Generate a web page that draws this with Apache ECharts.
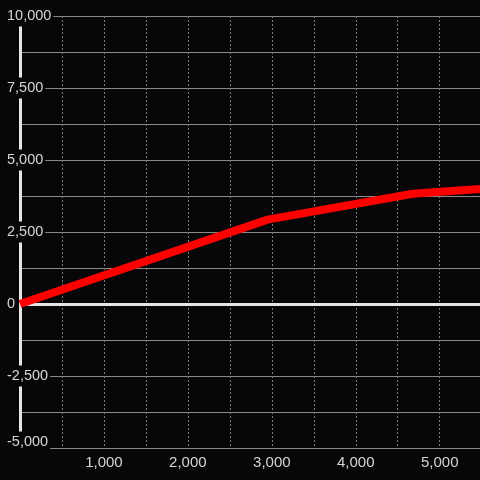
<!DOCTYPE html>
<html>
<head>
<meta charset="utf-8">
<script src="https://cdn.jsdelivr.net/npm/echarts@6/dist/echarts.min.js"></script>
<style>
  html, body { margin: 0; padding: 0; background: #070709; }
  #chart { width: 480px; height: 480px; }
</style>
</head>
<body>
<div id="chart"></div>
<script>
// data
const xValues = [0, 2950, 4680, 5500];
const yValues = [0, 2930, 3830, 4000];
const xRange = [0, 5480];
const yRange = [-5000, 10000];

const bg = '#070709';
const labelColor = '#d6d6d6';
const fmt = v => v.toLocaleString('en-US');

const chart = echarts.init(document.getElementById('chart'));

const option = {
  backgroundColor: bg,
  animation: false,
  grid: { left: 20, right: 0, top: 16, bottom: 32, outerBoundsMode: 'none' },
  xAxis: {
    type: 'value',
    min: xRange[0],
    max: xRange[1],
    interval: 500,
    axisLine: { show: false },
    axisTick: { show: false },
    axisLabel: {
      color: labelColor,
      fontSize: 15,
      fontFamily: 'Liberation Sans',
      margin: 7,
      showMaxLabel: false,
      formatter: v => (v > 0 && v % 1000 === 0 ? fmt(v) : '')
    },
    splitLine: { show: true, lineStyle: { color: '#7a7a7a', width: 1, type: [2, 2] } }
  },
  yAxis: [
    {
      type: 'value',
      position: 'left',
      min: yRange[0],
      max: yRange[1],
      interval: 1250,
      z: 0,
      axisLine: { show: false },
      axisTick: { show: false },
      axisLabel: { show: false },
      splitLine: { show: true, lineStyle: { color: '#8a8a8a', width: 1 } }
    },
    {
      type: 'value',
      position: 'left',
      offset: 0,
      min: yRange[0],
      max: yRange[1],
      interval: 1250,
      z: 1,
      axisLine: { show: true, onZero: false, lineStyle: { color: '#e6e6e6', width: 3 } },
      axisTick: { show: false },
      splitLine: { show: false },
      axisLabel: {
        color: labelColor,
        fontSize: 14.5,
        fontFamily: 'Liberation Sans',
        align: 'left',
        margin: 15,
        backgroundColor: bg,
        padding: [3, 2],
        formatter: v => {
          if (v % 2500 !== 0) return '';
          if (v === yRange[0]) return '{low|' + fmt(v) + '}';
          return fmt(v);
        },
        rich: {
          low: { color: labelColor, fontSize: 14.5, fontFamily: 'Liberation Sans', padding: [0, 0, 12, 0] }
        }
      }
    }
  ],
  series: [
    {
      type: 'line',
      data: xValues.map((x, i) => [x, yValues[i]]),
      symbol: 'none',
      clip: true,
      lineStyle: { color: '#ff0000', width: 8 },
      markLine: {
        silent: true,
        z: 1,
        symbol: 'none',
        label: { show: false },
        lineStyle: { color: '#e6e6e6', width: 3, type: 'solid' },
        data: [{ yAxis: 0 }]
      }
    }
  ]
};

chart.setOption(option);
</script>
</body>
</html>
